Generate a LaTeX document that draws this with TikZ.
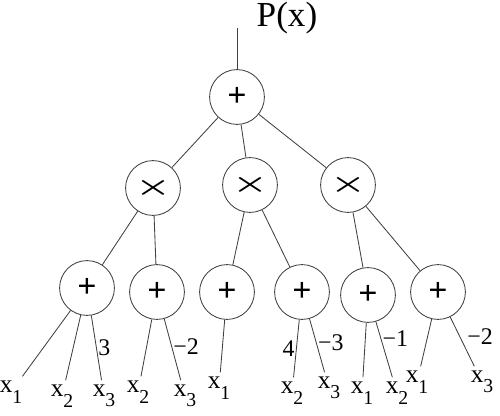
\documentclass[tikz,border=0pt]{standalone}
\usepackage{fontspec}
\setmainfont{Liberation Serif}
\usepackage{tikz}
\usetikzlibrary{positioning}
\newcommand{\xsub}[2]{#1\raisebox{-0.9ex}{\fontsize{14}{14}\selectfont #2}}
\newcommand{\opplus}{\fontsize{24}{24}\selectfont\textbf{+}}
\newcommand{\optimes}{\scalebox{1.15}[0.75]{\fontsize{26}{26}\selectfont\boldmath$\times$}}
\tikzstyle{op} = [circle, draw, minimum size=1.37cm, inner sep=0pt]

\begin{document}
\begin{tikzpicture}[x=0.025cm, y=-0.025cm, draw=black!75, line width=0.6pt,
    leaf_node/.style={inner sep=3pt, font=\fontsize{18}{18}\selectfont},
    weight/.style={inner sep=1pt, font=\fontsize{17}{17}\selectfont}]
    \useasboundingbox (0,0) rectangle (500,415);

    % Output and root sum
    \coordinate (out) at (237,28);
    \node[font=\fontsize{25}{25}\selectfont] (px) at (287,18) {P(x)};
    \node[op] (sum) at (237,97) {\opplus};

    % Products
    \node[op] (prod1) at (153,188) {\optimes};
    \node[op] (prod2) at (250,185) {\optimes};
    \node[op] (prod3) at (348,185) {\optimes};

    % Inner sums
    \node[op] (s1) at (87,288) {\opplus};
    \node[op] (s2) at (157,292) {\opplus};
    \node[op] (s3) at (227,292) {\opplus};
    \node[op] (s4) at (302,292) {\opplus};
    \node[op] (s5) at (368,295) {\opplus};
    \node[op] (s6) at (438,292) {\opplus};

    % Inputs
    \node[leaf_node] (s1a) at (11,392) {\xsub{x}{1}};
    \node[leaf_node] (s1b) at (62,396) {\xsub{x}{2}};
    \node[leaf_node] (s1c) at (104,396) {\xsub{x}{3}};
    \node[leaf_node] (s2a) at (138,392) {\xsub{x}{2}};
    \node[leaf_node] (s2b) at (185,396) {\xsub{x}{3}};
    \node[leaf_node] (s3a) at (219,388) {\xsub{x}{1}};
    \node[leaf_node] (s4a) at (292,393) {\xsub{x}{2}};
    \node[leaf_node] (s4b) at (329,388) {\xsub{x}{3}};
    \node[leaf_node] (s5a) at (362,393) {\xsub{x}{1}};
    \node[leaf_node] (s5b) at (397,393) {\xsub{x}{2}};
    \node[leaf_node] (s6a) at (417,382) {\xsub{x}{1}};
    \node[leaf_node] (s6b) at (482,382) {\xsub{x}{3}};

    % Edges
    \draw (out) -- (sum);
    \draw (sum) -- (prod1);
    \draw (sum) -- (prod2);
    \draw (sum) -- (prod3);
    \draw (prod1) -- (s1);
    \draw (prod1) -- (s2);
    \draw (prod2) -- (s3);
    \draw (prod2) -- (s4);
    \draw (prod3) -- (s5);
    \draw (prod3) -- (s6);

    \draw (s1) -- (s1a);
    \draw (s1) -- (s1b);
    \draw (s1) -- node[weight, pos=0.5, right] {3} (s1c);
    \draw (s2) -- (s2a);
    \draw (s2) -- node[weight, pos=0.45, right] {−2} (s2b);
    \draw (s3) -- (s3a);
    \draw (s4) -- node[weight, pos=0.5, left] {4} (s4a);
    \draw (s4) -- node[weight, pos=0.45, right] {−3} (s4b);
    \draw (s5) -- (s5a);
    \draw (s5) -- node[weight, pos=0.3, right] {−1} (s5b);
    \draw (s6) -- (s6a);
    \draw (s6) -- node[weight, pos=0.4, right, xshift=4pt] {−2} (s6b);
\end{tikzpicture}
\end{document}
